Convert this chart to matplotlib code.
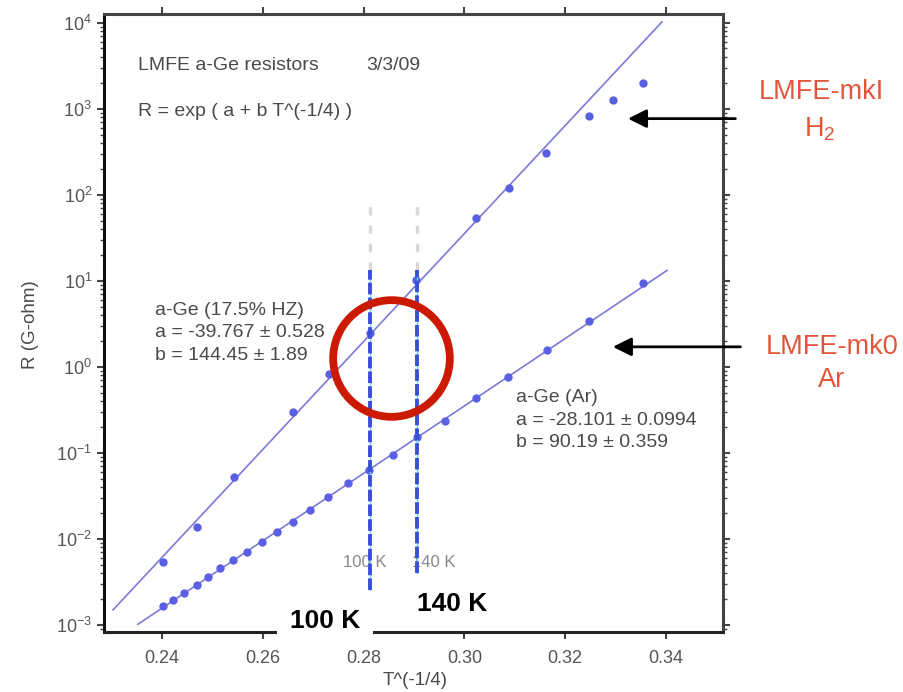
import numpy as np
import matplotlib
matplotlib.use('Agg')
import matplotlib.pyplot as plt
from matplotlib.patches import FancyArrowPatch
from matplotlib.ticker import LogLocator, NullFormatter, FixedLocator, FormatStrFormatter

plt.rcParams['font.family'] = ['Liberation Sans', 'DejaVu Sans']
plt.rcParams['mathtext.default'] = 'regular'

# a-Ge (17.5% H2) sample, LMFE-mkI
x_h2 = [0.2402, 0.2469, 0.2543, 0.2660, 0.2731, 0.2813, 0.2904,
        0.3023, 0.3089, 0.3162, 0.3247, 0.3295, 0.3354]
r_h2 = [0.0054, 0.0138, 0.052, 0.30, 0.83, 2.5, 10.3,
        53, 120, 307, 830, 1260, 2000]
a_h2, b_h2 = -39.767, 144.45
fit_h2_range = [0.2303, 0.3392]

# a-Ge (Ar) sample, LMFE-mk0
x_ar = [0.2402, 0.2422, 0.2444, 0.2469, 0.2491, 0.2515, 0.2541, 0.2569,
        0.2598, 0.2628, 0.2660, 0.2694, 0.2729, 0.2769, 0.2811, 0.2858,
        0.2906, 0.2962, 0.3023, 0.3087, 0.3164, 0.3247, 0.3354]
r_ar = [0.00166, 0.00195, 0.00236, 0.0029, 0.0036, 0.0046, 0.0057, 0.0071,
        0.0092, 0.0120, 0.0158, 0.0217, 0.0308, 0.0448, 0.0634, 0.0948,
        0.153, 0.235, 0.436, 0.766, 1.58, 3.43, 9.5]
a_ar, b_ar = -28.101, 90.19
fit_ar_range = [0.2352, 0.3402]

x_ticks = [0.24, 0.26, 0.28, 0.30, 0.32, 0.34]
temp_lines = [0.2813, 0.2906]
temp_labels = ['100 K', '140 K']

pt_col = '#5a5fe4'
fit_col = '#7a7ad8'
txt_col = '#4a4a4a'
red = '#e2553c'

fig = plt.figure(figsize=(9.04, 6.92), dpi=100)
ax = fig.add_axes([0.1150, 0.0867, 0.6848, 0.8931])
ax.set_yscale('log')
ax.set_xlim(0.2285, 0.3513)
ax.set_ylim(10 ** -3.08, 10 ** 4.1)

for a, b, rng in [(a_h2, b_h2, fit_h2_range), (a_ar, b_ar, fit_ar_range)]:
    xf = np.linspace(rng[0], rng[1], 200)
    ax.plot(xf, np.exp(a + b * xf), color=fit_col, lw=1.2, zorder=2)
ax.plot(x_h2, r_h2, 'o', color=pt_col, ms=6, mec='none', zorder=3)
ax.plot(x_ar, r_ar, 'o', color=pt_col, ms=6, mec='none', zorder=3)

# temperature markers
for xv in temp_lines:
    ax.plot([xv, xv], [13.4, 80], color='#d8d8d8', lw=2.4, ls=(0, (2.5, 3)), zorder=1)
for xv, ybot in zip(temp_lines, [0.00255, 0.00403]):
    ax.plot([xv, xv], [ybot, 13.4], color='#6ad8f0', lw=1.0, zorder=4)
    ax.plot([xv, xv], [ybot, 13.4], color='#3a4fd8', lw=2.8,
            ls=(0, (3, 0.8)), zorder=4)
ax.text(0.2803, 0.0053, temp_labels[0], color='#888888', fontsize=12,
        ha='center', va='center')
ax.text(0.2940, 0.0053, temp_labels[1], color='#888888', fontsize=12,
        ha='center', va='center')

# red circle highlight
ax.plot([0.2854], [1.27], 'o', ms=84, mfc='none', mec='#cc1a00', mew=5.6,
        zorder=5, clip_on=False)

# text annotations
tk = dict(transform=ax.transAxes, color=txt_col, fontsize=14, va='center')
ax.text(0.055, 0.916, 'LMFE a-Ge resistors', **tk)
ax.text(0.423, 0.916, '3/3/09', **tk)
ax.text(0.055, 0.843, 'R = exp ( a + b T^(-1/4) )', **tk)
ax.text(0.0824, 0.521, 'a-Ge (17.5% HZ)', **tk)
ax.text(0.0824, 0.485, 'a = -39.767 \u00b1 0.528', **tk)
ax.text(0.0824, 0.448, 'b = 144.45 \u00b1 1.89', **tk)
ax.text(0.666, 0.380, 'a-Ge (Ar)', **tk)
ax.text(0.666, 0.342, 'a = -28.101 \u00b1 0.0994', **tk)
ax.text(0.666, 0.306, 'b = 90.19 \u00b1 0.359', **tk)

# arrows from the side labels
for tail, head in [((0.3543, 766), (0.3319, 766)), ((0.3553, 1.71), (0.3289, 1.71))]:
    arr = FancyArrowPatch(tail, head, arrowstyle='-|>', color='black', lw=2,
                          mutation_scale=28, clip_on=False, zorder=6)
    ax.add_patch(arr)

fig.text(0.909, 0.867, 'LMFE-mkI', color=red, fontsize=19.5, ha='center', va='center')
fig.text(0.907, 0.813, 'H$_2$', color=red, fontsize=19.5, ha='center', va='center')
fig.text(0.920, 0.499, 'LMFE-mk0', color=red, fontsize=19.5, ha='center', va='center')
fig.text(0.920, 0.451, 'Ar', color=red, fontsize=19.5, ha='center', va='center')

fig.text(325 / 904, 1 - 621 / 692, temp_labels[0], fontsize=19, fontweight='bold',
         ha='center', va='center', zorder=10,
         bbox=dict(facecolor='white', edgecolor='none', boxstyle='square,pad=0.5'))
fig.text(452 / 904, 1 - 604 / 692, temp_labels[1], fontsize=19, fontweight='bold',
         ha='center', va='center', zorder=10)

# axes styling
for s in ax.spines.values():
    s.set_color('#444444')
    s.set_linewidth(2.2)
ax.spines['left'].set_color('#111111')
ax.spines['bottom'].set_color('#222222')
ax.xaxis.set_major_locator(FixedLocator(x_ticks))
ax.xaxis.set_major_formatter(FormatStrFormatter('%.2f'))
ax.yaxis.set_major_locator(LogLocator(base=10, numticks=20))
ax.yaxis.set_minor_locator(LogLocator(base=10, subs=np.arange(2, 10), numticks=20))
ax.yaxis.set_minor_formatter(NullFormatter())
ax.tick_params(which='both', direction='out', top=True, right=True,
               colors='#444444', labelcolor='#555555', labelsize=13)
ax.tick_params(which='major', length=5, width=1.5)
ax.tick_params(which='minor', length=3, width=1)
ax.tick_params(axis='x', pad=8)

ax.set_xlabel('T^(-1/4)', color=txt_col, fontsize=13.5)
ax.xaxis.set_label_coords(0.502, -0.064)
ax.set_ylabel('R (G-ohm)', color=txt_col, fontsize=13.5)
ax.yaxis.set_label_coords(-0.105, 0.498)

fig.savefig('out.png', dpi=100)
